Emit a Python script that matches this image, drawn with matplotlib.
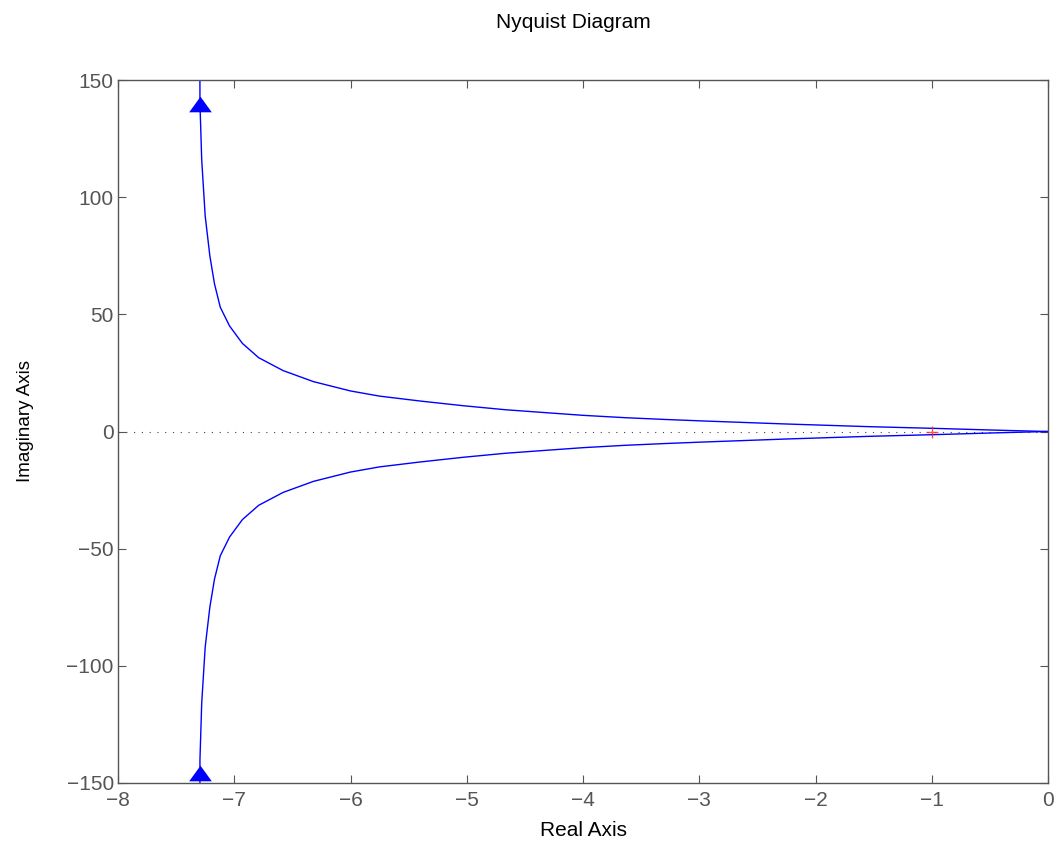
import matplotlib
matplotlib.use("Agg")
import matplotlib.pyplot as plt

plt.rcParams['font.family'] = ['Liberation Sans', 'DejaVu Sans']

# Upper branch of the Nyquist curve; lower branch is its mirror
re_pos = [-7.297, -7.295, -7.28, -7.25, -7.21, -7.17, -7.12, -7.04, -6.93, -6.79,
          -6.58, -6.32, -6.00, -5.75, -5.4, -5.03, -4.67, -4.31, -4.0, -3.64,
          -3.3, -2.97, -2.25, -1.53, -1.0, -0.5, -0.2, 0.0]
im_pos = [200, 140, 116, 92, 75, 63, 53, 45, 37.6, 31.5,
          26.0, 21.3, 17.3, 15.1, 13.0, 11.0, 9.3, 8.0, 6.9, 5.9,
          5.15, 4.5, 3.2, 2.05, 1.37, 0.65, 0.25, 0.0]

arrow_re = [-7.295, -7.295]
arrow_im = [139.6, -145.7]

crit_re = [-1.0]
crit_im = [0.0]

x_ticks = [-8, -7, -6, -5, -4, -3, -2, -1, 0]
y_ticks = [-150, -100, -50, 0, 50, 100, 150]

fig = plt.figure(figsize=(10.61, 8.44), dpi=100)
ax = fig.add_axes([118/1061, 61/844, 930/1061, 703/844])

blue = '#0000ff'
ax.plot([-8, 0], [0, 0], color='#444444', lw=0.8, linestyle=(0, (1, 6)))
ax.plot(re_pos, im_pos, color=blue, lw=1.0)
ax.plot(re_pos, [-v for v in im_pos], color=blue, lw=1.0)

tri = [(-1, -0.69), (1, -0.69), (0, 0.69), (-1, -0.69)]
ax.plot(arrow_re, arrow_im, linestyle='none', marker=tri, markersize=16.3,
        color=blue, markeredgewidth=0)
ax.plot(crit_re, crit_im, linestyle='none', marker='+', markersize=9.3,
        color='#ff2020', markeredgewidth=1.0, alpha=0.8)

ax.set_xlim(-8, 0)
ax.set_ylim(-150, 150)
ax.set_xticks(x_ticks)
ax.set_yticks(y_ticks)
ax.set_xticklabels([("\u2212%d" % -t) if t < 0 else "%d" % t for t in x_ticks])
ax.set_yticklabels([("\u2212%d" % -t) if t < 0 else "%d" % t for t in y_ticks])

gray = '#555555'
for s in ax.spines.values():
    s.set_color(gray)
    s.set_linewidth(1.0)
ax.tick_params(direction='in', length=6, width=0.8, colors=gray,
               top=True, right=True, labelsize=15, labelcolor='#555555')
ax.tick_params(axis='x', pad=6)
ax.tick_params(axis='y', pad=3)

ax.set_xlabel('Real Axis', fontsize=15, color='black', labelpad=8)
ax.set_ylabel('Imaginary Axis', fontsize=13.5, color='black')
ax.yaxis.set_label_coords(-0.09, 0.515)
fig.text(573/1061, 1 - 22/844, 'Nyquist Diagram', ha='center', va='center',
         fontsize=15, color='black')

fig.savefig('out.png', dpi=100)
